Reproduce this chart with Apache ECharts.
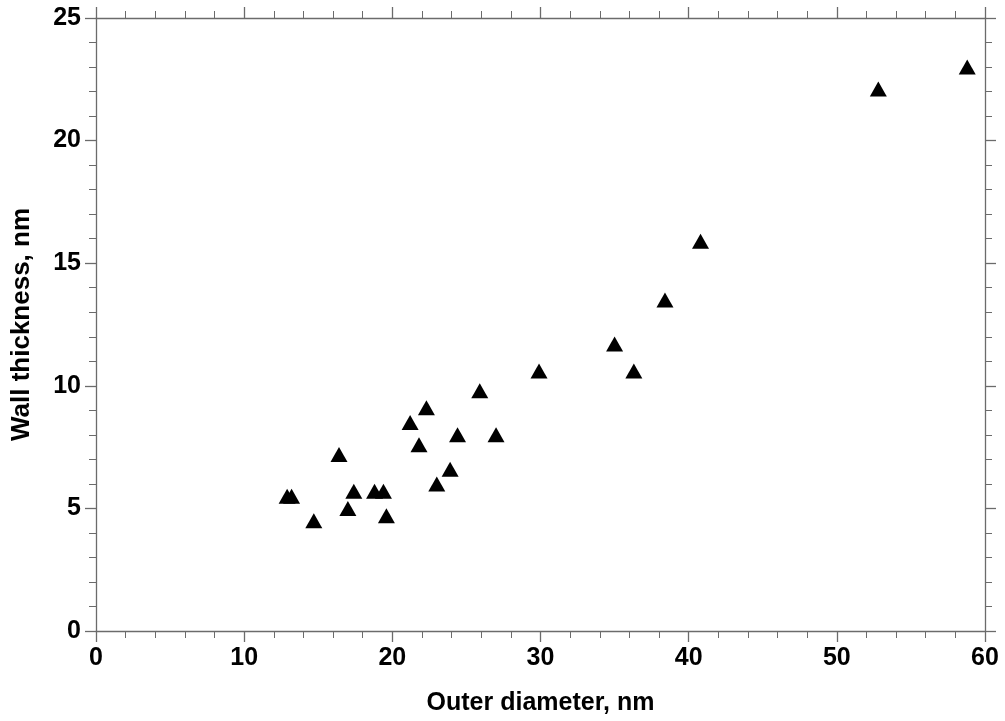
<!DOCTYPE html>
<html>
<head>
<meta charset="utf-8">
<title>Wall thickness vs outer diameter</title>
<script src="https://cdn.jsdelivr.net/npm/echarts@6/dist/echarts.min.js"></script>
<style>
  html, body { margin: 0; padding: 0; background: #fff; }
  #chart { width: 1005px; height: 721px; }
</style>
</head>
<body>
<div id="chart"></div>
<script>
// outer diameter (nm) / wall thickness (nm)
const outerDiameter = [12.9, 13.2, 14.7, 16.4, 17.0, 17.4, 18.8, 19.4, 19.6, 21.2, 22.3, 21.8,
  23.0, 23.9, 24.4, 25.9, 27.0, 29.9, 35.0, 36.3, 38.4, 40.8, 52.8, 58.8]
const wallThickness = [5.5, 5.5, 4.5, 7.2, 5.0, 5.7, 5.7, 5.7, 4.7, 8.5, 9.1, 7.6,
  6.0, 6.6, 8.0, 9.8, 8.0, 10.6, 11.7, 10.6, 13.5, 15.9, 22.1, 23.0]

const xTicks = [0, 10, 20, 30, 40, 50, 60]
const yTicks = [0, 5, 10, 15, 20, 25]

const font = '"Liberation Sans", Arial, sans-serif'
const lineColor = "#6b6b6b"

const points = outerDiameter.map((d, i) => [d, wallThickness[i]])

// shared axis look, labels only on bottom/left
const frameAxis = (pos, ticks, withLabels, name) => ({
  type: "value",
  position: pos,
  min: ticks[0],
  max: ticks[ticks.length - 1],
  interval: ticks[1] - ticks[0],
  name: name,
  nameLocation: "middle",
  nameGap: pos === "left" ? 61 : 60,
  nameTextStyle: {
    color: "#000",
    fontFamily: font,
    fontWeight: "bold",
    fontSize: pos === "left" ? 26 : 25
  },
  axisLine: { show: true, onZero: false, lineStyle: { color: lineColor, width: 1.3 } },
  axisTick: { show: true, inside: false, length: 11, lineStyle: { color: lineColor, width: 1.3 } },
  minorTick: { show: true, splitNumber: 5, length: 7, lineStyle: { color: lineColor, width: 1 } },
  splitLine: { show: false },
  minorSplitLine: { show: false },
  axisLabel: {
    show: withLabels,
    margin: 15,
    color: "#000",
    fontFamily: font,
    fontWeight: "bold",
    fontSize: 25
  }
})

const chart = echarts.init(document.getElementById("chart"))
chart.setOption({
  animation: false,
  backgroundColor: "#fff",
  grid: { left: 96, right: 20, top: 18, bottom: 90, containLabel: false },
  xAxis: [
    frameAxis("bottom", xTicks, true, "Outer diameter, nm"),
    frameAxis("top", xTicks, false, "")
  ],
  yAxis: [
    frameAxis("left", yTicks, true, "Wall thickness, nm"),
    frameAxis("right", yTicks, false, "")
  ],
  series: [
    {
      type: "scatter",
      xAxisIndex: 0,
      yAxisIndex: 0,
      symbol: "triangle",
      symbolSize: [17, 15],
      itemStyle: { color: "#000", opacity: 1 },
      data: points
    }
  ]
})
</script>
</body>
</html>
